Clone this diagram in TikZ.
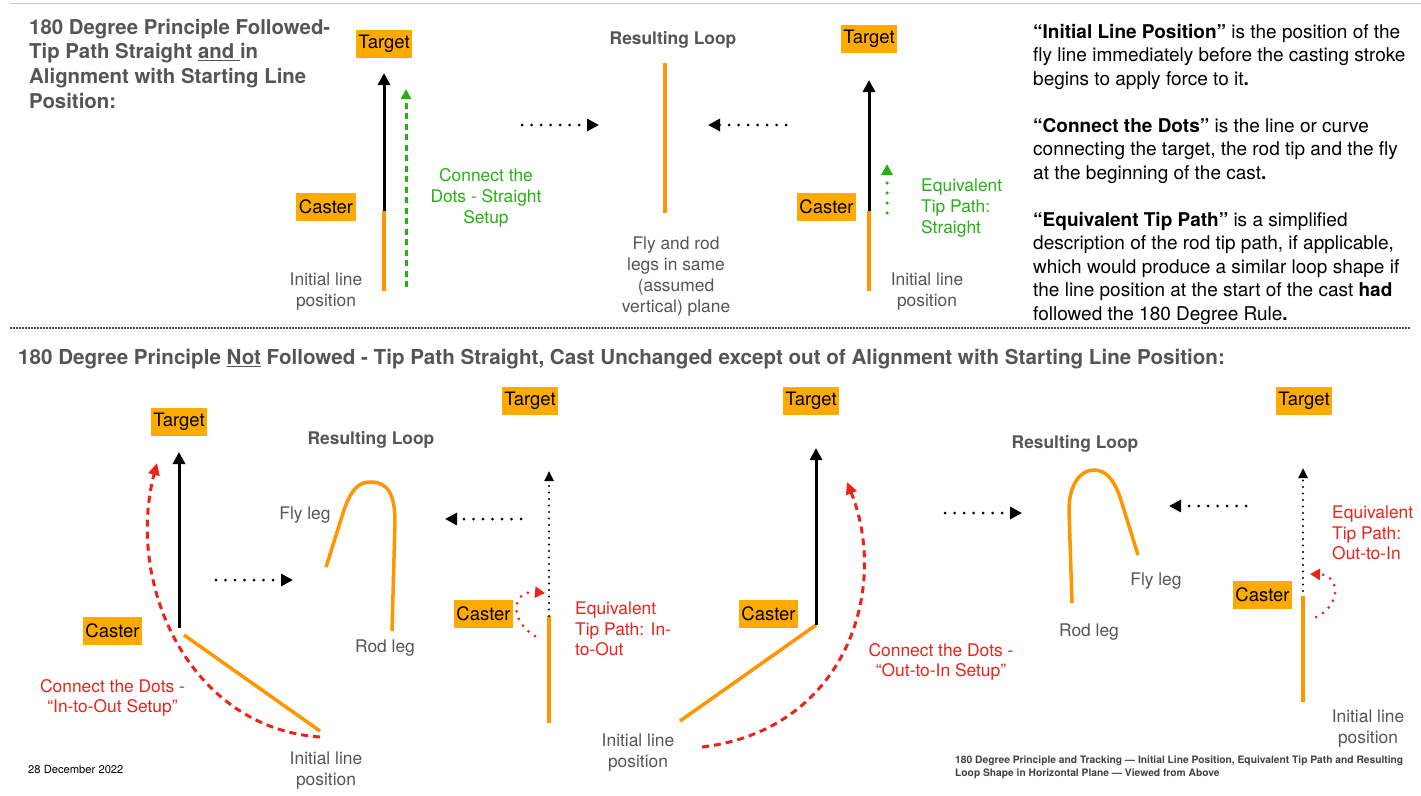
\documentclass[tikz,border=0pt]{standalone}
\usepackage{xcolor}
\usepackage{fontspec}
\setmainfont{TeX Gyre Heros}
\usetikzlibrary{arrows.meta,positioning}
\definecolor{boxorange}{RGB}{255,170,0}
\definecolor{lineorange}{RGB}{255,150,0}
\definecolor{tipgreen}{RGB}{40,175,20}
\definecolor{tipred}{RGB}{235,35,25}
\definecolor{labelgray}{RGB}{85,85,85}

\begin{document}
\begin{tikzpicture}[x=1pt,y=-1pt,
box/.style={fill=boxorange,inner xsep=2.5pt,inner ysep=0pt,minimum height=28pt,font=\fontsize{18.5}{20}\selectfont},
lbl/.style={text=labelgray,align=center,inner sep=0pt,font=\fontsize{17.4}{21}\selectfont},
head/.style={text=labelgray,inner sep=0pt,font=\bfseries\fontsize{17.4}{21}\selectfont},
rtxt/.style={text=tipred,inner sep=0pt,font=\fontsize{17.4}{20.5}\selectfont},
gtxt/.style={text=tipgreen,inner sep=0pt,font=\fontsize{17.4}{21}\selectfont},
rod/.style={line width=3pt,-{Triangle[width=12pt,length=12pt]}},
flyline/.style={lineorange,line width=3.5pt},
hop/.style={line width=3pt,line cap=round,dash pattern=on 0pt off 9.5pt,-{Triangle[width=12pt,length=12pt]}},
tipdots/.style={line width=2.4pt,line cap=round,dash pattern=on 0pt off 6.5pt,-{Triangle[width=9pt,length=10pt]}},
gdash/.style={tipgreen,line width=3pt,dash pattern=on 6pt off 4.5pt,-{Triangle[width=10pt,length=10pt]}},
gdots/.style={tipgreen,line width=3.5pt,line cap=round,dash pattern=on 0pt off 10pt,-{Triangle[width=11pt,length=11pt]}},
rdash/.style={tipred,line width=3pt,dash pattern=on 7pt off 5pt,-{Triangle[width=11pt,length=12pt]}},
rdots/.style={tipred,line width=3pt,line cap=round,dash pattern=on 0pt off 8pt,-{Triangle[width=11pt,length=10pt]}}]
\useasboundingbox (0,0) rectangle (1421,795);
\draw[black!22,line width=1pt] (10,3.5) -- (1421,3.5);
\draw[black!70,line width=1.2pt,dash pattern=on 1.5pt off 1.5pt] (10,328) -- (1410,328);

\node[anchor=north west,align=left,inner sep=0pt,text=labelgray,font=\bfseries\fontsize{20.4}{24.6}\selectfont] (h1) at (29,19) {180 Degree Principle Followed-\\Tip Path Straight \underline{and\ }in\\Alignment with Starting Line\\Position:};
\node[anchor=north west,align=left,inner sep=0pt,font=\fontsize{19}{23.5}\selectfont] (defs) at (1033,24) {\textbf{“Initial Line Position”} is the position of the\\fly line immediately before the casting stroke\\begins to apply force to it\textbf{.}\\[23.5pt]\textbf{“Connect the Dots”} is the line or curve\\connecting the target, the rod tip and the fly\\at the beginning of the cast\textbf{.}\\[23.5pt]\textbf{“Equivalent Tip Path”} is a simplified\\description of the rod tip path, if applicable,\\which would produce a similar loop shape if\\the line position at the start of the cast \textbf{had}\\followed the 180 Degree Rule\textbf{.}};
\node[anchor=west,inner sep=0pt,text=labelgray,font=\bfseries\fontsize{20.6}{24}\selectfont] (h2) at (18,359) {180 Degree Principle \underline{Not} Followed - Tip Path Straight, Cast Unchanged except out of Alignment with Starting Line Position:};
\node[anchor=west,inner sep=0pt,font=\fontsize{11.2}{13}\selectfont] (date) at (28,769) {28 December 2022};
\node[anchor=north west,align=left,inner sep=0pt,text=black!75,font=\bfseries\fontsize{10.25}{13}\selectfont] (foot) at (955,756) {180 Degree Principle and Tracking — Initial Line Position, Equivalent Tip Path and Resulting\\Loop Shape in Horizontal Plane — Viewed from Above};

\node[box] (tgt1) at (384,44) {Target};
\node[box] (cst1) at (326,207) {Caster};
\coordinate (tip1) at (384,211);
\coordinate (aim1) at (384,73);
\coordinate (fly1) at (384,291);
\draw[flyline] (tip1) -- (fly1);
\draw[rod] (tip1) -- (aim1);
\coordinate (g1a) at (406,287);
\coordinate (g1b) at (406,89);
\draw[gdash] (g1a) -- (g1b);
\node[lbl] (init1) at (326,292) {Initial line\\position};
\node[gtxt,align=center] (cd1) at (486,198) {Connect the\\Dots - Straight\\Setup};
\coordinate (h1a) at (522,125);
\coordinate (h1b) at (599,125);
\draw[hop] (h1a) -- (h1b);

\node[head] (res1) at (673,40) {Resulting Loop};
\coordinate (leg1a) at (665,63);
\coordinate (leg1b) at (665,213);
\draw[flyline] (leg1a) -- (leg1b);
\node[lbl] (plane) at (676,277) {Fly and rod\\legs in same\\(assumed\\vertical) plane};
\coordinate (h2a) at (786,125);
\coordinate (h2b) at (708,125);
\draw[hop] (h2a) -- (h2b);

\node[box] (tgt2) at (869,39) {Target};
\node[box] (cst2) at (826.5,207) {Caster};
\coordinate (tip2) at (869,211);
\coordinate (aim2) at (869,80);
\coordinate (fly2) at (869,291);
\draw[flyline] (tip2) -- (fly2);
\draw[rod] (tip2) -- (aim2);
\coordinate (g2a) at (887,213);
\coordinate (g2b) at (887,164);
\draw[gdots] (g2a) -- (g2b);
\node[gtxt,align=left,anchor=west] (eq2) at (921,208) {Equivalent\\Tip Path:\\Straight};
\node[lbl] (init2) at (927,292) {Initial line\\position};

\node[box] (tgt3) at (179,422) {Target};
\node[box] (cst3) at (112.5,631) {Caster};
\coordinate (tip3) at (179,628);
\coordinate (aim3) at (179,452);
\draw[rod] (tip3) -- (aim3);
\coordinate (fly3a) at (184,635);
\coordinate (fly3b) at (320,731);
\draw[flyline] (fly3a) -- (fly3b);
\coordinate (cd3a) at (320,737);
\coordinate (cd3b) at (157,463);
\draw[rdash] (cd3a) .. controls (190,728) and (125,585) .. (cd3b);
\node[rtxt,align=center] (cdt3) at (112.5,698) {Connect the Dots -\\“In-to-Out Setup”};
\node[lbl] (init3) at (326,771) {Initial line\\position};
\coordinate (h3a) at (216,580);
\coordinate (h3b) at (293,580);
\draw[hop] (h3a) -- (h3b);
\node[head] (res3) at (371,440) {Resulting Loop};
\coordinate (fl3) at (326,567);
\coordinate (rl3) at (392,631);
\draw[flyline] (fl3) -- (344,510) .. controls (352,487) and (360,482) .. (371,482) .. controls (388,482) and (395,495) .. (395,522) -- (rl3);
\node[lbl] (flt3) at (305,515) {Fly leg};
\node[lbl] (rlt3) at (385,648) {Rod leg};
\coordinate (h4a) at (521,519);
\coordinate (h4b) at (445,519);
\draw[hop] (h4a) -- (h4b);

\node[box] (tgt4) at (530,401) {Target};
\node[box] (cst4) at (483.5,614) {Caster};
\coordinate (tip4) at (549,616);
\coordinate (aim4) at (549,471);
\coordinate (fly4) at (549,723);
\draw[flyline] (tip4) -- (fly4);
\draw[tipdots] (tip4) -- (aim4);
\coordinate (e4a) at (535,636);
\coordinate (e4b) at (545,593);
\draw[rdots] (e4a) .. controls (510,622) and (510,590) .. (e4b);
\node[rtxt,align=left,anchor=west] (eq4) at (575,629) {Equivalent\\Tip Path: In-\\to-Out};

\node[box] (tgt5) at (811,401) {Target};
\node[box] (cst5) at (768.5,614) {Caster};
\coordinate (tip5) at (816,625);
\coordinate (aim5) at (816,448);
\coordinate (fly5) at (680,721);
\draw[flyline] (tip5) -- (fly5);
\draw[rod] (tip5) -- (aim5);
\coordinate (cd5a) at (702,747);
\coordinate (cd5b) at (847,482);
\draw[rdash] (cd5a) .. controls (845,730) and (890,590) .. (cd5b);
\node[rtxt,align=center] (cdt5) at (941,662) {Connect the Dots -\\“Out-to-In Setup”};
\node[lbl] (init5) at (638,753) {Initial line\\position};
\coordinate (h5a) at (945,513);
\coordinate (h5b) at (1022,513);
\draw[hop] (h5a) -- (h5b);
\node[head] (res5) at (1075,444) {Resulting Loop};
\coordinate (rl5) at (1072,603);
\coordinate (fl5) at (1138,555);
\draw[flyline] (rl5) -- (1069,510) .. controls (1069,485) and (1080,470) .. (1094,470) .. controls (1106,470) and (1114,480) .. (1120,497) -- (fl5);
\node[lbl] (flt5) at (1156,581) {Fly leg};
\node[lbl] (rlt5) at (1089,632) {Rod leg};
\coordinate (h6a) at (1246,506);
\coordinate (h6b) at (1169,506);
\draw[hop] (h6a) -- (h6b);

\node[box] (tgt6) at (1304,401) {Target};
\node[box] (cst6) at (1262.5,595) {Caster};
\coordinate (tip6) at (1303,591);
\coordinate (aim6) at (1303,468);
\coordinate (fly6a) at (1303,596);
\coordinate (fly6b) at (1303,702);
\draw[flyline] (fly6a) -- (fly6b);
\draw[tipdots] (tip6) -- (aim6);
\coordinate (e6a) at (1316,617);
\coordinate (e6b) at (1310,574);
\draw[rdots] (e6a) .. controls (1342,605) and (1340,575) .. (e6b);
\node[rtxt,align=left,anchor=west] (eq6) at (1332,533) {Equivalent\\Tip Path:\\Out-to-In};
\node[lbl] (init6) at (1368,729) {Initial line\\position};
\end{tikzpicture}
\end{document}
